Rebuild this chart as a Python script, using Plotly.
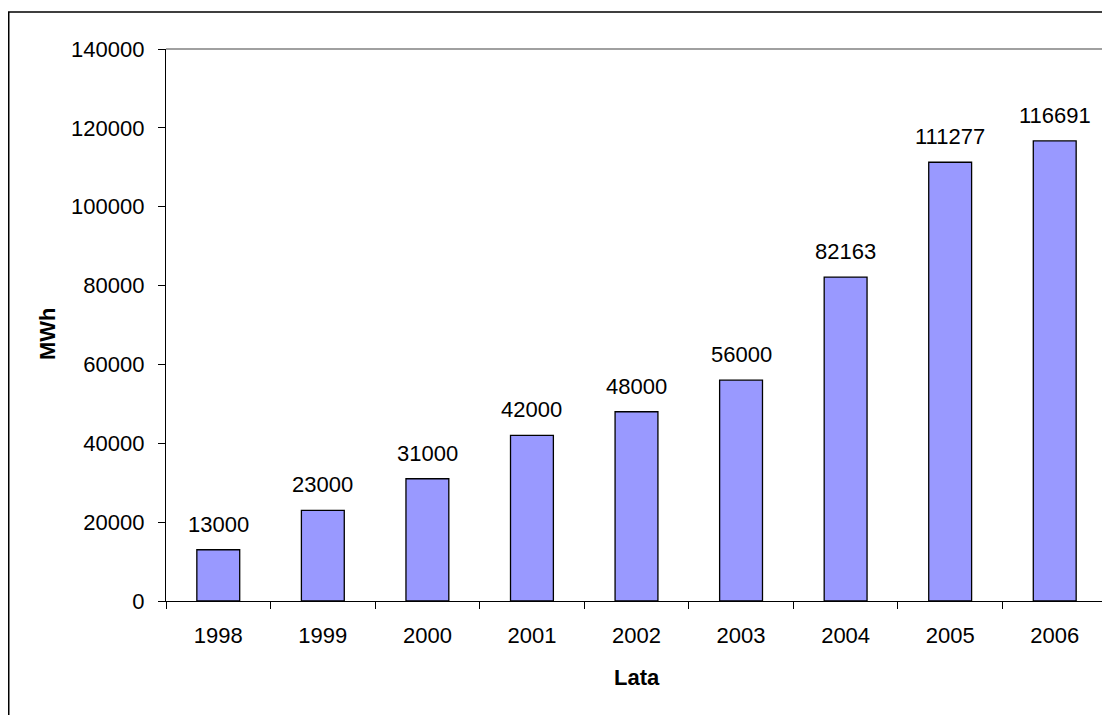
import plotly.graph_objects as go

years = ["1998", "1999", "2000", "2001", "2002", "2003", "2004", "2005", "2006"]
values = [13000, 23000, 31000, 42000, 48000, 56000, 82163, 111277, 116691]
y_ticks = [0, 20000, 40000, 60000, 80000, 100000, 120000, 140000]

FONT = "Liberation Sans, Arial, sans-serif"
FS = 22

# figure is offset 8px by the page's body margin
W, H = 1102, 707
L, R, T, B = 158, 3, 41, 114
PW = W - L - R
PH = H - T - B

fig = go.Figure()
fig.add_trace(go.Bar(
    x=years, y=values,
    marker=dict(color="#9999FF", line=dict(color="black", width=1.3)),
    width=0.41,
    hoverinfo="x+y",
))

for i, v in enumerate(values):
    fig.add_annotation(x=i, y=v, text=str(v), showarrow=False,
                       yanchor="bottom", yshift=11,
                       font=dict(family=FONT, size=FS, color="black"))

# axis titles
fig.add_annotation(xref="paper", yref="paper", x=0.5, y=0, yshift=-76,
                   xanchor="center", yanchor="middle",
                   text="<b>Lata</b>", showarrow=False,
                   font=dict(family=FONT, size=FS, color="black"))
fig.add_annotation(xref="paper", yref="paper", x=0, xshift=-119, y=0.5, yshift=-9,
                   xanchor="center", yanchor="middle",
                   text="<b>MWh</b>", showarrow=False, textangle=-90,
                   font=dict(family=FONT, size=FS, color="black"))

# gray top and right border of the plot area
fig.add_shape(type="line", xref="paper", yref="paper", x0=0, x1=1, y0=1, y1=1,
              line=dict(color="#808080", width=1.3), layer="below")
fig.add_shape(type="line", xref="paper", yref="paper", x0=1, x1=1, y0=0, y1=1,
              line=dict(color="#808080", width=1.3), layer="below")
# outer chart border
fig.add_shape(type="rect", xref="paper", yref="paper",
              x0=(0.75 - L) / PW, x1=1.05, y0=-0.3, y1=(H - B - 4) / PH,
              line=dict(color="black", width=1.5), layer="below")

fig.update_layout(
    width=W, height=H, autosize=False,
    margin=dict(l=L, r=R, t=T, b=B, autoexpand=False, pad=0),
    plot_bgcolor="white", paper_bgcolor="white",
    showlegend=False,
    font=dict(family=FONT, size=FS, color="black"),
    xaxis=dict(
        type="category", range=[-0.5, 8.5], showgrid=False, showline=True,
        linecolor="black", linewidth=1.3,
        ticks="outside", tickson="boundaries", ticklen=7, tickcolor="black", tickwidth=1.3,
        tickangle=0, automargin=False, ticklabelstandoff=14,
        tickfont=dict(family=FONT, size=FS, color="black"),
    ),
    yaxis=dict(
        range=[0, 140000], tickvals=y_ticks, ticktext=[str(t) for t in y_ticks],
        showgrid=False, zeroline=False, showline=True, linecolor="black", linewidth=1.3,
        ticks="outside", ticklen=7, tickcolor="black", tickwidth=1.3, automargin=False,
        ticklabelstandoff=9,
        tickfont=dict(family=FONT, size=FS, color="black"),
    ),
)

fig.write_html("out.html")
